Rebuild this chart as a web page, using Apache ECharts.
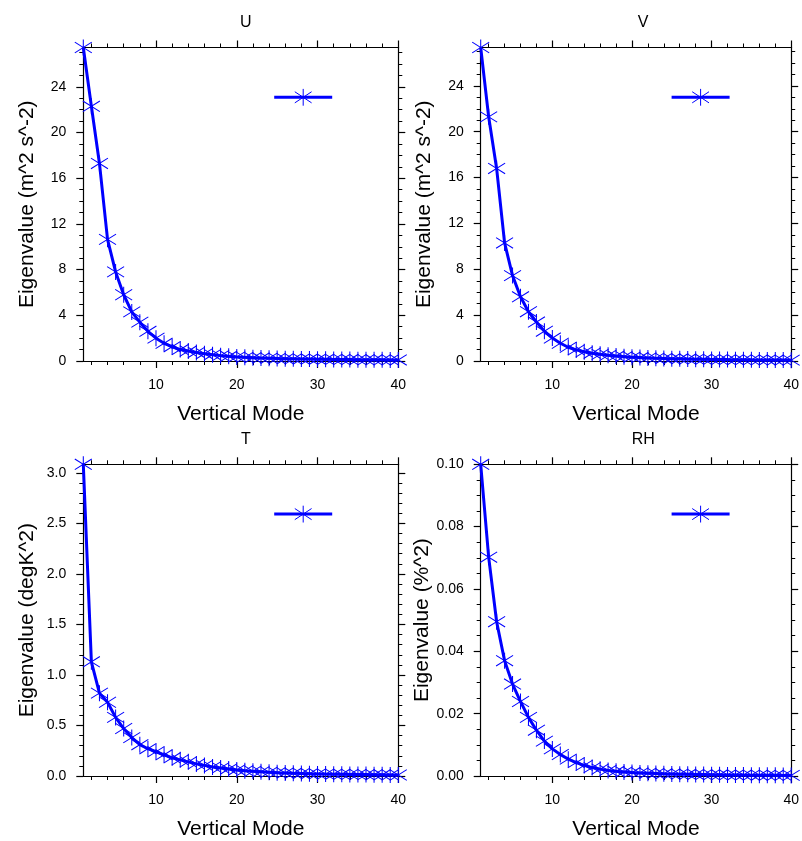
<!DOCTYPE html>
<html>
<head>
<meta charset="utf-8">
<script src="https://cdn.jsdelivr.net/npm/echarts@6/dist/echarts.min.js"></script>
<style>
html,body{margin:0;padding:0;background:#fff;}
#chart{width:802px;height:841px;}
</style>
</head>
<body>
<div id="chart"></div>
<script>
// ---- data ----
var modes = [1,2,3,4,5,6,7,8,9,10,11,12,13,14,15,16,17,18,19,20,21,22,23,24,25,26,27,28,29,30,31,32,33,34,35,36,37,38,39,40];
var uEig = [27.45,22.3,17.3,10.65,7.8,5.8,4.3,3.4,2.6,2.0,1.55,1.25,1.0,0.87,0.75,0.64,0.55,0.47,0.41,0.36,0.32,0.29,0.26,0.24,0.22,0.2,0.19,0.18,0.17,0.16,0.15,0.14,0.13,0.125,0.12,0.11,0.105,0.1,0.095,0.09];
var vEig = [27.35,21.3,16.8,10.3,7.45,5.6,4.3,3.4,2.6,2.0,1.55,1.2,0.97,0.8,0.68,0.58,0.5,0.43,0.38,0.33,0.3,0.27,0.24,0.22,0.2,0.19,0.17,0.16,0.15,0.14,0.13,0.12,0.115,0.11,0.1,0.095,0.09,0.085,0.08,0.075];
var tEig = [3.085,1.13,0.82,0.73,0.58,0.47,0.38,0.31,0.27,0.24,0.21,0.18,0.16,0.14,0.12,0.105,0.09,0.08,0.07,0.06,0.053,0.047,0.042,0.037,0.033,0.03,0.027,0.025,0.023,0.021,0.019,0.018,0.017,0.016,0.015,0.014,0.013,0.012,0.011,0.01];
var rhEig = [0.1,0.0702,0.0495,0.037,0.0295,0.0239,0.0188,0.0147,0.0112,0.0087,0.0069,0.0054,0.0043,0.0034,0.0027,0.0022,0.0018,0.0015,0.0013,0.0011,0.001,0.0009,0.0008,0.0007,0.00065,0.0006,0.00055,0.0005,0.00045,0.0004,0.00038,0.00035,0.00033,0.0003,0.00028,0.00026,0.00024,0.00022,0.0002,0.00019];

var panelTitles = ['U','V','T','RH'];
var yTitles = ['Eigenvalue (m^2 s^-2)','Eigenvalue (m^2 s^-2)','Eigenvalue (degK^2)','Eigenvalue (%^2)'];
var xTitle = 'Vertical Mode';

var xMajor = [10,20,30,40];
var xMinor = [2,4,6,8,12,14,16,18,22,24,26,28,32,34,36,38];
var yMajorUV = [0,4,8,12,16,20,24];
var yMinorUV = [1,2,3,5,6,7,9,10,11,13,14,15,17,18,19,21,22,23,25,26,27];
var yMajorT = [0,0.5,1.0,1.5,2.0,2.5,3.0];
var yMinorT = [0.1,0.2,0.3,0.4,0.6,0.7,0.8,0.9,1.1,1.2,1.3,1.4,1.6,1.7,1.8,1.9,2.1,2.2,2.3,2.4,2.6,2.7,2.8,2.9,3.0];
var yMajorRH = [0,0.02,0.04,0.06,0.08,0.10];
var yMinorRH = [0.005,0.01,0.015,0.025,0.03,0.035,0.045,0.05,0.055,0.065,0.07,0.075,0.085,0.09,0.095];

// ---- layout ----
var FONT = 'Liberation Sans, Arial, Helvetica, sans-serif';
var grids = [
  {left:83.3, top:47.5, width:315, height:313.5},
  {left:480.7, top:47.5, width:315, height:313.5},
  {left:83.3, top:464.3, width:315, height:314},
  {left:480.7, top:464.3, width:315, height:314}
];
var seriesData = [uEig, vEig, tEig, rhEig];
var yMajors = [yMajorUV, yMajorUV, yMajorT, yMajorRH];
var yMinors = [yMinorUV, yMinorUV, yMinorT, yMinorRH];
var yFmt = [
  function(v){return String(Math.round(v));},
  function(v){return String(Math.round(v));},
  function(v){return v.toFixed(1);},
  function(v){return v.toFixed(2);}
];

var STAR = 'path://M0 -8 L0 8 M-8.5 -5.3 L8.5 5.3 M-8.5 5.3 L8.5 -5.3';
var BLUE = '#0000ff';

var option = {
  backgroundColor:'#fff',
  animation:false,
  title:[], grid:[], xAxis:[], yAxis:[], series:[], legend:[]
};

function axisBase(){
  return {type:'value', splitLine:{show:false}};
}

grids.forEach(function(g, i){
  option.grid.push({left:g.left, top:g.top, width:g.width, height:g.height, containLabel:false});
  option.title.push({
    text:panelTitles[i], left:g.left + g.width/2, top:g.top - 38, textAlign:'center',
    textStyle:{fontFamily:FONT, fontSize:16, fontWeight:'normal', color:'#000'}
  });
  var xb = option.xAxis.length;
  var lineStyle = {color:'#000', width:1.2};
  // bottom major (with labels, name)
  option.xAxis.push(Object.assign(axisBase(), {
    gridIndex:i, position:'bottom', min:1, max:40,
    axisLine:{show:true, onZero:false, lineStyle:lineStyle},
    axisTick:{show:true, inside:false, length:7, customValues:xMajor, lineStyle:{color:'#000', width:1.2}},
    axisLabel:{show:true, customValues:xMajor, margin:17, fontFamily:FONT, fontSize:14, color:'#000'},
    name:xTitle, nameLocation:'middle', nameGap:43,
    nameTextStyle:{fontFamily:FONT, fontSize:21, color:'#000'}
  }));
  // bottom minor
  option.xAxis.push(Object.assign(axisBase(), {
    gridIndex:i, position:'bottom', min:1, max:40,
    axisLine:{show:false, onZero:false},
    axisTick:{show:true, inside:false, length:4, customValues:xMinor, lineStyle:{color:'#000', width:1}},
    axisLabel:{show:false}
  }));
  // top major
  option.xAxis.push(Object.assign(axisBase(), {
    gridIndex:i, position:'top', min:1, max:40,
    axisLine:{show:true, onZero:false, lineStyle:lineStyle},
    axisTick:{show:true, inside:false, length:7, customValues:xMajor, lineStyle:{color:'#000', width:1.2}},
    axisLabel:{show:false}
  }));
  // top minor
  option.xAxis.push(Object.assign(axisBase(), {
    gridIndex:i, position:'top', min:1, max:40,
    axisLine:{show:false, onZero:false},
    axisTick:{show:true, inside:false, length:4, customValues:xMinor, lineStyle:{color:'#000', width:1}},
    axisLabel:{show:false}
  }));

  var ymax = Math.max.apply(null, seriesData[i]);
  var yb = option.yAxis.length;
  option.yAxis.push(Object.assign(axisBase(), {
    gridIndex:i, position:'left', min:0, max:ymax,
    axisLine:{show:true, onZero:false, lineStyle:lineStyle},
    axisTick:{show:true, inside:false, length:7, customValues:yMajors[i], lineStyle:{color:'#000', width:1.2}},
    axisLabel:{show:true, customValues:yMajors[i], margin:17, fontFamily:FONT, fontSize:14, color:'#000', formatter:yFmt[i]},
    name:yTitles[i], nameLocation:'middle', nameGap:46, nameRotate:90,
    nameTextStyle:{fontFamily:FONT, fontSize:21, color:'#000'}
  }));
  option.yAxis.push(Object.assign(axisBase(), {
    gridIndex:i, position:'left', min:0, max:ymax,
    axisLine:{show:false, onZero:false},
    axisTick:{show:true, inside:false, length:4, customValues:yMinors[i], lineStyle:{color:'#000', width:1}},
    axisLabel:{show:false}
  }));
  option.yAxis.push(Object.assign(axisBase(), {
    gridIndex:i, position:'right', min:0, max:ymax,
    axisLine:{show:true, onZero:false, lineStyle:lineStyle},
    axisTick:{show:true, inside:false, length:7, customValues:yMajors[i], lineStyle:{color:'#000', width:1.2}},
    axisLabel:{show:false}
  }));
  option.yAxis.push(Object.assign(axisBase(), {
    gridIndex:i, position:'right', min:0, max:ymax,
    axisLine:{show:false, onZero:false},
    axisTick:{show:true, inside:false, length:4, customValues:yMinors[i], lineStyle:{color:'#000', width:1}},
    axisLabel:{show:false}
  }));

  var pts = modes.map(function(m, k){ return [m, seriesData[i][k]]; });
  option.series.push({
    type:'line', name:panelTitles[i], xAxisIndex:xb, yAxisIndex:yb,
    data:pts, clip:false,
    symbol:STAR, symbolSize:[17,16], showAllSymbol:true,
    lineStyle:{color:BLUE, width:3},
    itemStyle:{color:'rgba(0,0,0,0)', borderColor:BLUE, borderWidth:1},
    emphasis:{disabled:true}
  });
  option.legend.push({
    data:[panelTitles[i]], left:g.left + 189.4, top:g.top + 39.3,
    padding:0, itemWidth:58, itemHeight:21, itemGap:0,
    formatter:function(){return '';},
    selectedMode:false,
    lineStyle:{width:3, color:BLUE},
    itemStyle:{color:'rgba(0,0,0,0)', borderColor:BLUE, borderWidth:1},
    textStyle:{fontSize:1}
  });
});

var chart = echarts.init(document.getElementById('chart'), null, {renderer:'canvas'});
chart.setOption(option);
</script>
</body>
</html>
